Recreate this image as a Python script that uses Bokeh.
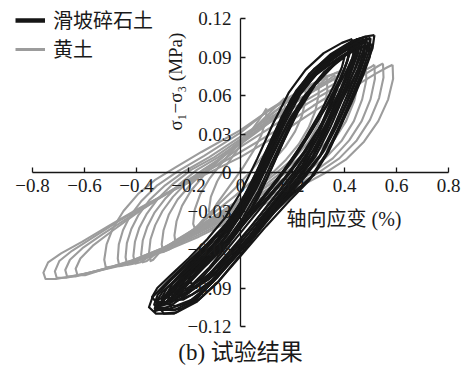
from math import pi

from bokeh.plotting import figure
from bokeh.models import Range1d, FixedTicker, Label, Legend, LegendItem
from bokeh.embed import file_html
from bokeh.resources import INLINE

# Axis ticks and their printed labels (true minus sign)
x_ticks = [-0.8, -0.6, -0.4, -0.2, 0, 0.2, 0.4, 0.6, 0.8]
x_tick_labels = ["−0.8", "−0.6", "−0.4", "−0.2", "0", "0.2", "0.4", "0.6", "0.8"]
y_ticks = [-0.12, -0.09, -0.06, -0.03, 0, 0.03, 0.06, 0.09, 0.12]
y_tick_labels = ["−0.12", "−0.09", "−0.06", "−0.03", "0", "0.03", "0.06", "0.09", "0.12"]

series_names = ["滑坡碎石土", "黄土"]

# Loess: hysteresis cycles, (axial strain %, deviator stress MPa)
loess_cycles = [
    [(0.585, 0.084), (0.587, 0.073), (0.568, 0.057), (0.530, 0.040), (0.475, 0.024), (0.405, 0.010),
     (0.320, -0.001), (0.210, -0.013), (0.090, -0.025), (-0.030, -0.037), (-0.160, -0.050),
     (-0.300, -0.062), (-0.450, -0.072), (-0.600, -0.079), (-0.710, -0.083), (-0.750, -0.083),
     (-0.758, -0.078), (-0.740, -0.070), (-0.690, -0.063), (-0.610, -0.054), (-0.510, -0.042),
     (-0.400, -0.029), (-0.280, -0.016), (-0.150, -0.003), (0.000, 0.012), (0.150, 0.030),
     (0.300, 0.050), (0.430, 0.066), (0.520, 0.077), (0.565, 0.082), (0.585, 0.084)],
    [(0.548, 0.085), (0.550, 0.074), (0.533, 0.058), (0.498, 0.041), (0.447, 0.025), (0.380, 0.011),
     (0.300, 0.000), (0.195, -0.012), (0.080, -0.024), (-0.035, -0.036), (-0.165, -0.049),
     (-0.300, -0.061), (-0.440, -0.071), (-0.580, -0.078), (-0.670, -0.082), (-0.707, -0.082),
     (-0.714, -0.077), (-0.697, -0.069), (-0.648, -0.061), (-0.570, -0.051), (-0.470, -0.038),
     (-0.360, -0.025), (-0.240, -0.011), (-0.120, 0.002), (0.000, 0.016), (0.140, 0.033),
     (0.280, 0.052), (0.400, 0.067), (0.490, 0.078), (0.530, 0.083), (0.548, 0.085)],
    [(0.515, 0.084), (0.517, 0.073), (0.500, 0.057), (0.466, 0.040), (0.418, 0.025), (0.355, 0.011),
     (0.278, 0.000), (0.180, -0.011), (0.070, -0.023), (-0.040, -0.035), (-0.170, -0.048),
     (-0.300, -0.060), (-0.430, -0.070), (-0.560, -0.077), (-0.635, -0.081), (-0.667, -0.081),
     (-0.674, -0.076), (-0.656, -0.068), (-0.608, -0.059), (-0.530, -0.048), (-0.430, -0.035),
     (-0.320, -0.021), (-0.200, -0.007), (-0.090, 0.006), (0.000, 0.020), (0.130, 0.037),
     (0.260, 0.054), (0.380, 0.068), (0.460, 0.078), (0.500, 0.082), (0.515, 0.084)],
    [(0.482, 0.083), (0.484, 0.072), (0.468, 0.057), (0.436, 0.040), (0.390, 0.025), (0.330, 0.012),
     (0.256, 0.001), (0.165, -0.010), (0.060, -0.022), (-0.045, -0.034), (-0.170, -0.047),
     (-0.300, -0.059), (-0.420, -0.069), (-0.535, -0.076), (-0.598, -0.080), (-0.627, -0.080),
     (-0.634, -0.075), (-0.616, -0.067), (-0.568, -0.057), (-0.490, -0.045), (-0.395, -0.031),
     (-0.290, -0.017), (-0.180, -0.003), (-0.080, 0.010), (0.000, 0.024), (0.120, 0.040),
     (0.250, 0.056), (0.360, 0.069), (0.430, 0.077), (0.467, 0.081), (0.482, 0.083)],
    [(0.452, 0.082), (0.454, 0.071), (0.438, 0.056), (0.406, 0.040), (0.362, 0.026), (0.305, 0.013),
     (0.235, 0.002), (0.150, -0.009), (0.050, -0.021), (-0.050, -0.033), (-0.160, -0.045),
     (-0.270, -0.057), (-0.370, -0.066), (-0.440, -0.072), (-0.466, -0.073), (-0.472, -0.067),
     (-0.468, -0.056), (-0.452, -0.045), (-0.425, -0.034), (-0.380, -0.022), (-0.320, -0.010),
     (-0.240, 0.001), (-0.140, 0.013), (0.000, 0.031), (0.110, 0.049), (0.230, 0.064),
     (0.330, 0.075), (0.410, 0.080), (0.440, 0.081), (0.452, 0.082)],
    [(0.422, 0.080), (0.424, 0.069), (0.408, 0.054), (0.378, 0.039), (0.336, 0.025), (0.282, 0.013),
     (0.215, 0.002), (0.135, -0.009), (0.040, -0.021), (-0.055, -0.032), (-0.160, -0.044),
     (-0.265, -0.056), (-0.355, -0.065), (-0.412, -0.071), (-0.436, -0.072), (-0.442, -0.066),
     (-0.437, -0.055), (-0.420, -0.044), (-0.392, -0.033), (-0.348, -0.021), (-0.290, -0.010),
     (-0.215, 0.001), (-0.120, 0.012), (0.000, 0.028), (0.100, 0.041), (0.210, 0.055),
     (0.310, 0.067), (0.380, 0.075), (0.410, 0.078), (0.422, 0.080)],
    [(0.400, 0.080), (0.402, 0.069), (0.386, 0.055), (0.356, 0.040), (0.314, 0.026), (0.260, 0.014),
     (0.195, 0.003), (0.115, -0.009), (0.025, -0.021), (-0.070, -0.033), (-0.180, -0.046),
     (-0.300, -0.059), (-0.410, -0.068), (-0.490, -0.073), (-0.518, -0.074), (-0.524, -0.068),
     (-0.515, -0.056), (-0.490, -0.043), (-0.450, -0.030), (-0.395, -0.017), (-0.330, -0.006),
     (-0.250, 0.004), (-0.150, 0.016), (0.000, 0.033), (0.100, 0.047), (0.200, 0.059),
     (0.300, 0.071), (0.370, 0.078), (0.400, 0.080)],
    [(0.392, 0.078), (0.394, 0.067), (0.378, 0.053), (0.350, 0.038), (0.310, 0.025), (0.258, 0.013),
     (0.195, 0.003), (0.120, -0.008), (0.030, -0.020), (-0.060, -0.031), (-0.160, -0.043),
     (-0.260, -0.055), (-0.340, -0.064), (-0.385, -0.070), (-0.406, -0.071), (-0.412, -0.065),
     (-0.406, -0.054), (-0.389, -0.043), (-0.360, -0.032), (-0.316, -0.020), (-0.260, -0.009),
     (-0.190, 0.002), (-0.100, 0.012), (0.000, 0.026), (0.090, 0.038), (0.190, 0.052),
     (0.285, 0.064), (0.350, 0.072), (0.380, 0.076), (0.392, 0.078)],
    [(0.362, 0.076), (0.364, 0.066), (0.350, 0.052), (0.324, 0.038), (0.286, 0.025), (0.236, 0.013),
     (0.176, 0.003), (0.105, -0.008), (0.020, -0.019), (-0.065, -0.030), (-0.160, -0.042),
     (-0.255, -0.054), (-0.325, -0.063), (-0.360, -0.069), (-0.376, -0.070), (-0.382, -0.064),
     (-0.376, -0.053), (-0.358, -0.042), (-0.330, -0.031), (-0.288, -0.020), (-0.234, -0.009),
     (-0.168, 0.002), (-0.085, 0.012), (0.000, 0.024), (0.085, 0.036), (0.175, 0.050),
     (0.262, 0.062), (0.322, 0.070), (0.350, 0.074), (0.362, 0.076)],
    [(0.332, 0.074), (0.334, 0.064), (0.322, 0.051), (0.298, 0.037), (0.262, 0.024), (0.215, 0.013),
     (0.158, 0.003), (0.090, -0.008), (0.010, -0.019), (-0.070, -0.030), (-0.160, -0.042),
     (-0.250, -0.053), (-0.310, -0.062), (-0.336, -0.068), (-0.346, -0.069), (-0.352, -0.063),
     (-0.346, -0.052), (-0.328, -0.041), (-0.300, -0.030), (-0.260, -0.019), (-0.208, -0.008),
     (-0.145, 0.002), (-0.070, 0.012), (0.000, 0.022), (0.080, 0.034), (0.160, 0.047),
     (0.240, 0.059), (0.296, 0.067), (0.322, 0.072), (0.332, 0.074)],
    [(0.300, 0.071), (0.301, 0.061), (0.288, 0.048), (0.262, 0.035), (0.224, 0.022), (0.175, 0.010),
     (0.110, -0.003), (0.035, -0.016), (-0.050, -0.030), (-0.140, -0.043), (-0.220, -0.053),
     (-0.275, -0.060), (-0.298, -0.062), (-0.303, -0.056), (-0.296, -0.045), (-0.276, -0.033),
     (-0.242, -0.021), (-0.190, -0.009), (-0.120, 0.004), (-0.050, 0.016), (0.000, 0.025),
     (0.090, 0.041), (0.180, 0.055), (0.255, 0.065), (0.300, 0.071)],
    [(0.250, 0.066), (0.250, 0.056), (0.236, 0.044), (0.210, 0.032), (0.172, 0.020), (0.120, 0.008),
     (0.055, -0.005), (-0.020, -0.018), (-0.100, -0.031), (-0.180, -0.044), (-0.232, -0.052),
     (-0.250, -0.055), (-0.254, -0.049), (-0.246, -0.038), (-0.225, -0.026), (-0.190, -0.014),
     (-0.140, -0.002), (-0.075, 0.011), (0.000, 0.025), (0.080, 0.039), (0.160, 0.052),
     (0.220, 0.061), (0.250, 0.066)],
    [(0.170, 0.058), (0.170, 0.049), (0.155, 0.038), (0.128, 0.026), (0.090, 0.014), (0.040, 0.001),
     (-0.020, -0.012), (-0.085, -0.025), (-0.145, -0.037), (-0.175, -0.044), (-0.182, -0.040),
     (-0.176, -0.029), (-0.155, -0.017), (-0.120, -0.005), (-0.070, 0.008), (0.000, 0.024),
     (0.070, 0.038), (0.130, 0.050), (0.170, 0.058)],
    [(0.100, 0.050), (0.098, 0.041), (0.080, 0.029), (0.050, 0.017), (0.010, 0.004), (-0.040, -0.010),
     (-0.090, -0.024), (-0.115, -0.033), (-0.122, -0.030), (-0.114, -0.019), (-0.090, -0.007),
     (-0.050, 0.007), (0.000, 0.021), (0.050, 0.035), (0.085, 0.045), (0.100, 0.050)],
]

# Landslide gravel soil: hysteresis cycles, (axial strain %, deviator stress MPa)
gravel_cycles = [
    [(0.515, 0.107), (0.508, 0.097), (0.482, 0.083), (0.440, 0.063), (0.390, 0.039), (0.338, 0.016),
     (0.282, -0.002), (0.205, -0.015), (0.110, -0.033), (0.010, -0.056), (-0.085, -0.080),
     (-0.175, -0.100), (-0.255, -0.110), (-0.325, -0.110), (-0.352, -0.105), (-0.338, -0.097),
     (-0.285, -0.086), (-0.210, -0.071), (-0.130, -0.056), (-0.055, -0.040), (0.015, -0.020),
     (0.075, 0.004), (0.135, 0.032), (0.195, 0.057), (0.265, 0.077), (0.345, 0.092),
     (0.425, 0.102), (0.480, 0.106), (0.515, 0.107)],
    [(0.500, 0.104), (0.494, 0.094), (0.470, 0.080), (0.430, 0.060), (0.382, 0.037), (0.330, 0.015),
     (0.270, -0.004), (0.190, -0.019), (0.095, -0.038), (0.000, -0.060), (-0.090, -0.082),
     (-0.175, -0.099), (-0.250, -0.107), (-0.310, -0.107), (-0.332, -0.103), (-0.318, -0.095),
     (-0.268, -0.084), (-0.195, -0.070), (-0.118, -0.055), (-0.045, -0.039), (0.025, -0.019),
     (0.085, 0.005), (0.145, 0.032), (0.205, 0.056), (0.272, 0.075), (0.350, 0.089),
     (0.425, 0.099), (0.475, 0.103), (0.500, 0.104)],
    [(0.485, 0.106), (0.478, 0.096), (0.452, 0.081), (0.410, 0.060), (0.360, 0.036), (0.305, 0.013),
     (0.240, -0.003), (0.160, -0.022), (0.070, -0.043), (-0.020, -0.066), (-0.105, -0.085),
     (-0.185, -0.099), (-0.250, -0.104), (-0.290, -0.102), (-0.302, -0.097), (-0.282, -0.090),
     (-0.230, -0.079), (-0.160, -0.064), (-0.090, -0.049), (-0.025, -0.032), (0.035, -0.011),
     (0.095, 0.015), (0.155, 0.042), (0.215, 0.064), (0.285, 0.081), (0.360, 0.093),
     (0.430, 0.102), (0.470, 0.105), (0.485, 0.106)],
    [(0.460, 0.103), (0.452, 0.093), (0.425, 0.078), (0.383, 0.057), (0.332, 0.033), (0.276, 0.011),
     (0.215, -0.006), (0.140, -0.024), (0.055, -0.046), (-0.030, -0.067), (-0.110, -0.084),
     (-0.185, -0.095), (-0.245, -0.100), (-0.275, -0.099), (-0.282, -0.094), (-0.262, -0.087),
     (-0.212, -0.076), (-0.145, -0.062), (-0.075, -0.046), (-0.010, -0.028), (0.050, -0.006),
     (0.110, 0.020), (0.170, 0.046), (0.230, 0.066), (0.300, 0.082), (0.372, 0.094),
     (0.430, 0.101), (0.460, 0.103)],
    [(0.440, 0.100), (0.432, 0.090), (0.405, 0.075), (0.362, 0.053), (0.310, 0.029), (0.255, 0.008),
     (0.190, -0.009), (0.115, -0.028), (0.035, -0.049), (-0.045, -0.068), (-0.120, -0.083),
     (-0.190, -0.092), (-0.235, -0.096), (-0.255, -0.093), (-0.238, -0.086), (-0.192, -0.076),
     (-0.130, -0.062), (-0.062, -0.046), (0.000, -0.027), (0.060, -0.005), (0.120, 0.022),
     (0.180, 0.047), (0.245, 0.067), (0.315, 0.082), (0.385, 0.093), (0.425, 0.098), (0.440, 0.100)],
    [(0.490, 0.102), (0.483, 0.092), (0.458, 0.078), (0.418, 0.058), (0.370, 0.036), (0.318, 0.016),
     (0.262, 0.002), (0.190, -0.015), (0.105, -0.036), (0.015, -0.058), (-0.070, -0.077),
     (-0.150, -0.091), (-0.220, -0.099), (-0.258, -0.099), (-0.265, -0.094), (-0.245, -0.086),
     (-0.195, -0.074), (-0.130, -0.059), (-0.060, -0.042), (0.005, -0.022), (0.065, 0.002),
     (0.125, 0.028), (0.188, 0.052), (0.255, 0.071), (0.330, 0.085), (0.405, 0.095),
     (0.462, 0.100), (0.490, 0.102)],
    [(0.470, 0.105), (0.463, 0.095), (0.438, 0.080), (0.396, 0.059), (0.345, 0.035), (0.290, 0.013),
     (0.228, -0.004), (0.152, -0.022), (0.070, -0.043), (-0.010, -0.063), (-0.085, -0.078),
     (-0.155, -0.087), (-0.205, -0.091), (-0.225, -0.088), (-0.210, -0.081), (-0.165, -0.071),
     (-0.105, -0.057), (-0.040, -0.040), (0.020, -0.020), (0.080, 0.005), (0.140, 0.032),
     (0.200, 0.056), (0.265, 0.074), (0.338, 0.088), (0.410, 0.099), (0.452, 0.104), (0.470, 0.105)],
    [(0.420, 0.098), (0.412, 0.088), (0.385, 0.072), (0.343, 0.050), (0.292, 0.026), (0.238, 0.006),
     (0.175, -0.011), (0.100, -0.030), (0.020, -0.050), (-0.055, -0.068), (-0.125, -0.080),
     (-0.180, -0.087), (-0.203, -0.085), (-0.188, -0.078), (-0.145, -0.067), (-0.088, -0.052),
     (-0.025, -0.034), (0.035, -0.012), (0.095, 0.014), (0.155, 0.040), (0.218, 0.061),
     (0.288, 0.077), (0.360, 0.090), (0.405, 0.096), (0.420, 0.098)],
    [(0.505, 0.100), (0.497, 0.090), (0.470, 0.075), (0.428, 0.055), (0.378, 0.033), (0.324, 0.012),
     (0.265, -0.006), (0.188, -0.022), (0.098, -0.042), (0.005, -0.064), (-0.085, -0.085),
     (-0.170, -0.101), (-0.245, -0.109), (-0.295, -0.110), (-0.312, -0.105), (-0.295, -0.097),
     (-0.245, -0.086), (-0.175, -0.071), (-0.100, -0.055), (-0.030, -0.037), (0.035, -0.015),
     (0.095, 0.010), (0.155, 0.037), (0.218, 0.059), (0.290, 0.076), (0.370, 0.088),
     (0.450, 0.096), (0.490, 0.099), (0.505, 0.100)],
    [(0.450, 0.104), (0.443, 0.094), (0.418, 0.079), (0.378, 0.058), (0.330, 0.035), (0.278, 0.013),
     (0.220, -0.004), (0.145, -0.022), (0.060, -0.044), (-0.030, -0.067), (-0.120, -0.088),
     (-0.200, -0.101), (-0.270, -0.106), (-0.310, -0.105), (-0.322, -0.100), (-0.300, -0.093),
     (-0.250, -0.084), (-0.185, -0.073), (-0.115, -0.060), (-0.045, -0.044), (0.020, -0.024),
     (0.080, 0.000), (0.140, 0.028), (0.200, 0.053), (0.265, 0.073), (0.335, 0.088),
     (0.405, 0.099), (0.450, 0.104)],
    [(0.480, 0.099), (0.473, 0.089), (0.448, 0.075), (0.408, 0.055), (0.360, 0.033), (0.308, 0.013),
     (0.250, -0.003), (0.175, -0.020), (0.090, -0.041), (0.000, -0.064), (-0.085, -0.085),
     (-0.160, -0.099), (-0.225, -0.106), (-0.262, -0.107), (-0.272, -0.102), (-0.252, -0.094),
     (-0.205, -0.082), (-0.140, -0.067), (-0.070, -0.050), (-0.005, -0.030), (0.055, -0.007),
     (0.115, 0.020), (0.175, 0.045), (0.240, 0.066), (0.310, 0.080), (0.390, 0.091),
     (0.450, 0.097), (0.480, 0.099)],
    [(0.430, 0.104), (0.424, 0.095), (0.400, 0.081), (0.360, 0.061), (0.312, 0.038), (0.262, 0.017),
     (0.205, 0.000), (0.130, -0.019), (0.045, -0.041), (-0.045, -0.064), (-0.135, -0.083),
     (-0.215, -0.095), (-0.285, -0.101), (-0.325, -0.101), (-0.340, -0.097), (-0.320, -0.090),
     (-0.268, -0.080), (-0.200, -0.067), (-0.128, -0.052), (-0.058, -0.035), (0.005, -0.014),
     (0.065, 0.011), (0.125, 0.038), (0.185, 0.062), (0.250, 0.080), (0.320, 0.093),
     (0.390, 0.101), (0.430, 0.104)],
    [(0.460, 0.101), (0.450, 0.092), (0.420, 0.078), (0.370, 0.058), (0.310, 0.036), (0.250, 0.016),
     (0.180, -0.003), (0.100, -0.022), (0.020, -0.042), (-0.060, -0.062), (-0.140, -0.080),
     (-0.210, -0.093), (-0.270, -0.102), (-0.310, -0.104), (-0.300, -0.098), (-0.250, -0.088),
     (-0.180, -0.074), (-0.100, -0.058), (-0.030, -0.040), (0.030, -0.020), (0.090, 0.006),
     (0.150, 0.034), (0.210, 0.058), (0.280, 0.077), (0.360, 0.091), (0.430, 0.099), (0.460, 0.101)],
    [(0.440, 0.097), (0.430, 0.089), (0.400, 0.076), (0.350, 0.058), (0.290, 0.038), (0.230, 0.020),
     (0.160, 0.000), (0.090, -0.018), (0.010, -0.038), (-0.070, -0.058), (-0.150, -0.076),
     (-0.220, -0.091), (-0.280, -0.100), (-0.270, -0.094), (-0.210, -0.083), (-0.140, -0.069),
     (-0.070, -0.053), (0.000, -0.034), (0.060, -0.013), (0.120, 0.012), (0.180, 0.037),
     (0.240, 0.058), (0.310, 0.075), (0.380, 0.088), (0.440, 0.097)],
    [(0.400, 0.090), (0.390, 0.082), (0.360, 0.068), (0.310, 0.048), (0.250, 0.027), (0.190, 0.008),
     (0.120, -0.012), (0.040, -0.033), (-0.040, -0.054), (-0.120, -0.074), (-0.190, -0.088),
     (-0.260, -0.099), (-0.330, -0.106), (-0.320, -0.100), (-0.260, -0.091), (-0.190, -0.079),
     (-0.120, -0.065), (-0.050, -0.049), (0.010, -0.030), (0.070, -0.008), (0.130, 0.018),
     (0.190, 0.042), (0.260, 0.063), (0.330, 0.079), (0.400, 0.090)],
    [(0.500, 0.105), (0.490, 0.096), (0.460, 0.083), (0.410, 0.064), (0.350, 0.042), (0.290, 0.020),
     (0.220, 0.000), (0.140, -0.020), (0.060, -0.040), (-0.020, -0.060), (-0.090, -0.076),
     (-0.160, -0.088), (-0.210, -0.095), (-0.240, -0.097), (-0.235, -0.091), (-0.190, -0.082),
     (-0.130, -0.069), (-0.070, -0.054), (-0.010, -0.036), (0.050, -0.014), (0.110, 0.012),
     (0.170, 0.038), (0.230, 0.061), (0.300, 0.079), (0.380, 0.093), (0.450, 0.102), (0.500, 0.105)],
    [(0.450, 0.098), (0.440, 0.089), (0.410, 0.075), (0.360, 0.055), (0.300, 0.034), (0.240, 0.015),
     (0.170, -0.004), (0.100, -0.020), (0.030, -0.036), (-0.040, -0.052), (-0.110, -0.067),
     (-0.180, -0.081), (-0.240, -0.093), (-0.300, -0.103), (-0.290, -0.097), (-0.230, -0.087),
     (-0.160, -0.074), (-0.090, -0.061), (-0.020, -0.046), (0.040, -0.028), (0.100, -0.005),
     (0.160, 0.022), (0.220, 0.047), (0.290, 0.069), (0.370, 0.086), (0.450, 0.098)],
    [(0.420, 0.095), (0.410, 0.086), (0.380, 0.072), (0.330, 0.052), (0.270, 0.031), (0.210, 0.012),
     (0.140, -0.007), (0.070, -0.024), (0.000, -0.040), (-0.070, -0.056), (-0.140, -0.072),
     (-0.200, -0.086), (-0.260, -0.100), (-0.250, -0.094), (-0.190, -0.082), (-0.120, -0.068),
     (-0.050, -0.052), (0.010, -0.035), (0.070, -0.014), (0.130, 0.012), (0.190, 0.038),
     (0.250, 0.060), (0.320, 0.078), (0.420, 0.095)],
    [(0.480, 0.103), (0.470, 0.094), (0.440, 0.080), (0.390, 0.060), (0.330, 0.038), (0.270, 0.018),
     (0.200, -0.002), (0.120, -0.022), (0.040, -0.042), (-0.040, -0.061), (-0.120, -0.079),
     (-0.200, -0.094), (-0.270, -0.104), (-0.330, -0.108), (-0.320, -0.103), (-0.260, -0.094),
     (-0.190, -0.083), (-0.120, -0.070), (-0.050, -0.056), (0.010, -0.040), (0.070, -0.019),
     (0.130, 0.008), (0.190, 0.036), (0.250, 0.059), (0.320, 0.077), (0.400, 0.092), (0.480, 0.103)],
]

SERIF = "'Liberation Serif', 'Noto Sans CJK SC'"
CJK = "'Noto Sans CJK SC'"
INK = "#161616"
GREY = "#9c9c9c"

# The frame fills the whole canvas; the axes sit at the origin and are
# bounded to the tick span, so the visible ranges are a little wider.
W, H = 462, 369
X0_PX, PX_PER_X = 240.0, 260.0          # x = 0 column, pixels per 1 % strain
Y0_PX, PX_PER_Y = 172.0, 308.0 / 0.24   # y = 0 row, pixels per 1 MPa


def split(cycles):
    xs = [[pt[0] for pt in c] for c in cycles]
    ys = [[pt[1] for pt in c] for c in cycles]
    return xs, ys


p = figure(width=W, height=H, output_backend="svg", toolbar_location=None,
           x_range=Range1d(-X0_PX / PX_PER_X, (W - X0_PX) / PX_PER_X),
           y_range=Range1d(-(H - Y0_PX) / PX_PER_Y, Y0_PX / PX_PER_Y),
           min_border=0)
p.outline_line_color = None
p.grid.visible = False
p.background_fill_color = "white"
p.border_fill_color = "white"

p.xaxis.fixed_location = 0
p.yaxis.fixed_location = 0
p.xaxis.bounds = (x_ticks[0], x_ticks[-1])
p.yaxis.bounds = (y_ticks[0], y_ticks[-1])
p.xaxis.ticker = FixedTicker(ticks=x_ticks)
p.yaxis.ticker = FixedTicker(ticks=y_ticks)
p.xaxis.major_label_overrides = dict(zip(x_ticks, x_tick_labels))
p.yaxis.major_label_overrides = dict(zip(y_ticks, y_tick_labels))
for ax in (p.xaxis, p.yaxis):
    ax.axis_line_color = INK
    ax.axis_line_width = 1.3
    ax.major_tick_line_color = INK
    ax.major_tick_line_width = 1.3
    ax.major_tick_in = 5
    ax.major_tick_out = 0
    ax.minor_tick_line_color = None
    ax.major_label_text_font = "Liberation Serif"
    ax.major_label_text_font_size = "19px"
    ax.major_label_text_color = "#1a1a1a"
p.xaxis.major_label_standoff = 6
p.yaxis.major_label_standoff = 9

lx, ly = split(loess_cycles)
gx, gy = split(gravel_cycles)
loess_r = p.multi_line(xs=lx, ys=ly, line_color=GREY, line_width=2.1, line_join="round")
gravel_r = p.multi_line(xs=gx, ys=gy, line_color=INK, line_width=2.2, line_join="round")

# hidden copies of the two series, used only for heavier legend swatches
gravel_key = p.multi_line(xs=gx, ys=gy, line_color=INK, line_width=4.5, visible=False)
loess_key = p.multi_line(xs=lx, ys=ly, line_color=GREY, line_width=3, visible=False)
legend = Legend(items=[LegendItem(label=series_names[0], renderers=[gravel_key]),
                       LegendItem(label=series_names[1], renderers=[loess_key])],
                location=(15, H - 19 - 44), padding=0, margin=0, spacing=0,
                glyph_width=30, glyph_height=22, label_height=22, label_standoff=8,
                label_text_font=CJK, label_text_font_size="20px", label_text_color="#1a1a1a",
                border_line_color=None, background_fill_alpha=0,
                inactive_fill_alpha=0)
p.add_layout(legend)

p.add_layout(Label(x=-0.25, y=0.0709, text="σ₁−σ₃ (MPa)", angle=pi / 2,
                   text_align="center", text_baseline="middle",
                   text_font=SERIF, text_font_size="19px", text_color="#1a1a1a"))
p.add_layout(Label(x=0.398, y=-0.0366, text="轴向应变 (%)",
                   text_align="center", text_baseline="middle",
                   text_font=SERIF, text_font_size="20px", text_color="#1a1a1a"))
p.add_layout(Label(x=0.0, y=-0.1405, text="(b) 试验结果",
                   text_align="center", text_baseline="middle",
                   text_font=SERIF, text_font_size="23px", text_color="#1a1a1a"))

open("out.html", "w").write(file_html(p, INLINE))
